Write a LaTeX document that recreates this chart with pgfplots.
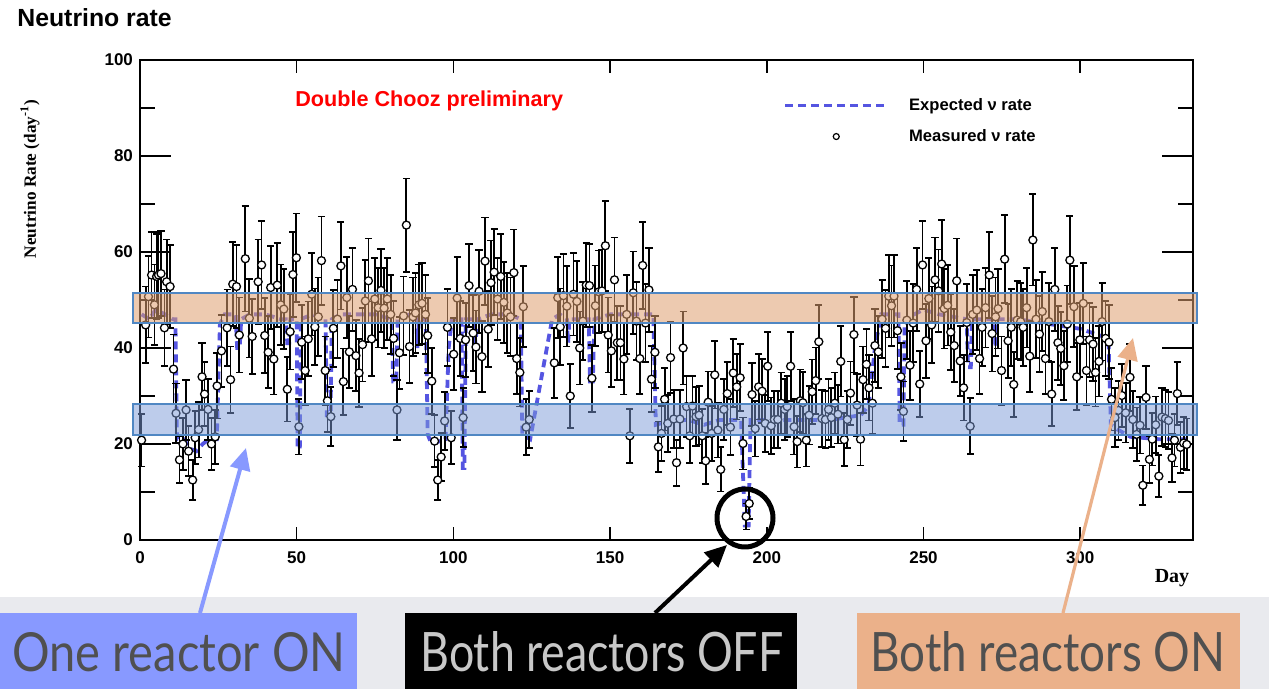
\documentclass[border=0pt]{standalone}
\usepackage{fontspec}
\setmainfont{Liberation Serif}
\setsansfont{Liberation Sans}
\newfontfamily\latofont{Lato}
\usepackage{pgfplots}
\pgfplotsset{compat=1.18}
\usepackage{pgfplotstable}
\usetikzlibrary{arrows.meta}

\definecolor{expblue}{RGB}{85,85,225}
\definecolor{bandor}{RGB}{224,160,112}
\definecolor{bandbl}{RGB}{125,155,216}
\definecolor{bandedge}{RGB}{80,135,195}
\definecolor{boxblue}{RGB}{136,153,255}
\definecolor{boxorange}{RGB}{235,177,138}
\definecolor{greybg}{RGB}{233,234,238}
\definecolor{txtgrey}{RGB}{80,80,80}
\definecolor{txtlight}{RGB}{200,200,200}

\pgfplotsset{
  explegend/.style={legend image code/.code={\draw[##1] (0pt,0pt) -- (51pt,0pt);}},
  measlegend/.style={legend image code/.code={\path[draw=none, fill=none] (0pt,0pt) -- (51pt,0pt);\draw[black, fill=white, line width=0.6pt] (25.5pt,0pt) circle (1.5pt);}},
  framebox/.style={at={(0pt,0pt)}, anchor=south west,
    scale only axis, width=526.5pt, height=240pt,
    xmin=0, xmax=336, ymin=0, ymax=100,
    axis line style={line width=1pt},
    tick align=inside,
    tick style={line width=0.8pt, black},
    ticklabel style={font=\sffamily\bfseries\fontsize{8.5}{10}\selectfont},
    /pgf/number format/assume math mode=true},
}

\pgfplotstableread{
x y e
0.5 20.8 5.5
1.8 44.8 8.0
2.7 50.7 8.5
3.7 55.2 8.9
4.6 49.0 8.4
5.3 54.9 8.9
5.9 55.2 8.9
6.7 55.5 8.9
7.8 44.2 8.0
8.5 53.8 8.8
9.6 52.8 8.7
10.7 35.6 7.2
11.5 26.4 6.2
12.6 16.7 4.9
13.7 20.0 5.4
14.7 27.1 6.2
15.5 18.5 5.2
16.8 12.5 4.2
17.6 21.3 5.5
18.7 23.0 5.8
19.8 34.0 7.0
20.6 30.4 6.6
21.7 27.2 6.3
22.8 20.0 5.4
24.0 21.5 5.6
24.6 32.1 6.8
26.0 39.4 7.5
27.8 44.2 8.0
28.9 33.4 6.9
29.6 53.3 8.8
30.8 52.8 8.7
31.7 42.7 7.8
33.6 58.6 11.0
34.9 46.2 8.2
35.8 42.4 7.8
37.7 53.8 8.8
38.8 57.3 9.1
39.8 42.6 7.8
40.9 39.1 7.5
41.7 52.6 8.7
42.7 37.7 7.4
43.8 53.1 8.7
44.9 49.0 8.4
45.9 48.1 8.3
47.0 31.4 6.7
47.9 43.4 7.9
48.8 55.3 8.9
49.9 58.8 9.2
50.7 23.6 5.8
51.6 41.2 7.7
52.7 35.3 7.1
53.7 41.9 7.8
54.8 51.2 8.6
55.8 44.4 8.0
56.9 46.5 8.2
57.9 58.2 9.2
59.1 35.3 7.1
59.8 29.0 6.5
60.9 25.7 6.1
61.7 44.1 8.0
63.0 46.0 8.1
64.1 57.1 9.1
64.9 33.0 6.9
66.0 50.5 8.5
66.8 39.2 7.5
67.8 52.2 8.7
68.9 38.4 7.4
69.9 34.8 7.1
71.0 40.7 7.7
71.9 49.8 8.5
72.9 54.0 8.8
73.9 41.9 7.8
74.9 50.2 8.5
76.0 48.4 8.3
76.9 52.0 8.7
77.9 48.3 8.3
78.9 50.2 8.5
80.0 47.0 8.2
80.9 42.0 7.8
82.0 27.1 6.2
82.8 39.0 7.5
84.1 46.7 8.2
85.0 65.6 9.7
86.0 40.3 7.6
87.1 46.5 8.2
87.9 47.3 8.3
89.0 49.0 8.4
90.0 49.3 8.4
91.1 47.0 8.2
91.8 42.6 7.8
93.1 33.1 6.9
94.0 20.6 5.4
95.0 12.5 4.2
96.1 17.3 5.0
97.2 24.8 6.0
98.1 44.3 8.0
99.3 21.3 5.5
100.1 38.7 7.5
101.2 50.4 8.5
102.2 42.0 7.8
103.1 25.5 6.1
103.9 41.7 7.7
105.0 53.0 8.7
106.3 43.1 7.9
107.2 40.2 7.6
108.2 51.8 8.6
109.1 38.2 7.4
110.1 58.1 9.1
111.1 43.9 7.9
112.0 53.6 8.8
113.0 55.8 9.0
114.1 50.2 8.5
115.1 54.9 8.9
116.1 49.5 8.4
117.2 47.3 8.3
118.2 46.5 8.2
119.3 55.7 9.0
120.2 37.8 7.4
121.2 34.9 7.1
122.3 48.6 8.4
123.2 23.5 5.8
124.2 25.1 6.0
132.2 36.9 7.3
133.3 50.5 8.5
134.1 44.4 8.0
135.1 50.9 8.6
136.2 48.7 8.4
137.3 30.0 6.6
138.3 51.2 8.6
139.4 49.7 8.5
140.3 40.0 7.6
141.3 45.6 8.1
142.4 53.1 8.7
143.4 53.0 8.7
144.2 33.7 7.0
145.3 48.8 8.4
146.4 51.7 8.6
147.4 51.9 8.6
148.5 61.3 9.4
149.4 42.7 7.8
150.4 39.4 7.5
151.4 54.2 8.8
152.3 41.1 7.7
153.3 41.1 7.7
154.4 37.7 7.4
155.3 47.0 8.2
156.3 21.7 5.6
157.4 51.5 8.6
158.4 45.6 8.1
159.5 37.8 7.4
160.4 57.2 9.1
161.3 45.2 8.1
162.4 52.1 8.7
163.2 33.5 6.9
164.3 39.1 7.5
165.4 19.4 5.3
166.4 22.2 5.7
167.4 29.3 6.5
168.4 24.3 5.9
169.3 38.0 7.4
170.3 25.2 6.0
171.2 16.1 4.8
172.3 25.2 6.0
173.3 40.0 7.6
174.4 27.8 6.3
175.4 21.7 5.6
176.3 27.9 6.3
177.4 25.7 6.1
178.4 26.0 6.1
179.4 21.7 5.6
180.5 16.5 4.9
181.3 28.7 6.4
182.4 22.2 5.7
183.4 34.4 7.0
184.4 22.9 5.7
185.3 14.7 4.6
186.3 27.2 6.3
187.4 30.5 6.6
188.4 23.5 5.8
189.3 34.8 7.1
190.4 31.9 6.8
191.5 33.8 7.0
192.4 20.1 5.4
193.4 4.9 2.7
194.4 7.6 3.3
195.3 30.3 6.6
196.3 23.2 5.8
197.4 31.9 6.8
198.5 31.0 6.7
199.5 24.3 5.9
200.3 36.2 7.2
201.4 23.8 5.9
202.4 25.1 6.0
203.5 25.1 6.0
204.6 28.5 6.4
205.7 27.2 6.3
206.5 27.8 6.3
207.6 36.2 7.2
208.7 23.6 5.8
209.7 20.5 5.4
210.7 29.0 6.5
211.5 28.6 6.4
212.6 20.8 5.5
213.5 26.0 6.1
214.5 30.9 6.7
215.6 33.2 6.9
216.6 41.3 7.7
217.6 25.3 6.0
218.7 25.1 6.0
219.7 27.2 6.3
220.6 25.5 6.1
221.7 28.5 6.4
222.7 26.2 6.1
223.6 37.2 7.3
224.7 20.9 5.5
225.7 25.1 6.0
226.7 30.6 6.6
227.8 42.8 7.9
228.8 28.1 6.4
229.9 21.0 5.5
230.7 33.4 6.9
231.8 36.6 7.3
232.6 31.7 6.8
233.7 28.5 6.4
234.5 40.5 7.6
235.6 39.2 7.5
236.8 46.0 8.1
237.9 44.1 8.0
238.9 50.8 8.6
239.8 48.8 8.4
240.6 50.8 8.6
241.7 43.6 7.9
242.8 34.0 7.0
243.6 26.8 6.2
244.7 45.8 8.1
245.7 36.4 7.2
246.7 45.2 8.1
247.8 52.2 8.7
248.8 32.5 6.8
249.7 57.3 9.1
250.8 41.5 7.7
251.7 50.3 8.5
252.6 44.8 8.0
253.7 54.2 8.8
254.8 51.9 8.6
255.8 57.5 9.1
256.6 48.2 8.3
257.7 48.9 8.4
258.7 43.3 7.9
259.8 40.5 7.6
260.6 54.0 8.8
261.7 37.3 7.3
262.8 31.7 6.8
263.8 45.3 8.1
264.9 23.7 5.8
265.7 47.0 8.2
267.0 47.9 8.3
267.9 37.8 7.4
268.7 44.3 8.0
269.8 48.4 8.3
271.0 55.2 8.9
271.9 43.0 7.9
273.0 46.5 8.2
273.8 48.2 8.3
274.9 35.3 7.1
275.9 58.5 9.2
277.0 41.5 7.7
278.0 44.3 8.0
278.8 32.4 6.8
279.9 45.8 8.1
281.0 45.5 8.1
281.8 44.3 8.0
282.9 48.4 8.3
283.9 38.3 7.4
284.9 62.5 9.5
285.9 46.0 8.1
287.0 42.9 7.9
287.9 47.6 8.3
288.9 37.8 7.4
290.0 45.5 8.1
290.9 30.4 6.6
291.9 52.2 8.7
292.9 41.1 7.7
293.8 39.9 7.6
294.8 36.3 7.2
295.9 45.0 8.0
296.7 58.3 9.2
298.0 48.6 8.4
298.9 34.0 7.0
299.9 41.7 7.7
301.0 49.3 8.4
302.0 35.3 7.1
303.0 41.7 7.7
304.1 40.8 7.7
304.9 34.9 7.1
306.0 37.2 7.3
307.0 45.5 8.1
308.1 42.0 7.8
309.2 41.2 7.7
310.0 29.3 6.5
311.1 25.5 6.1
312.2 27.0 6.2
313.3 30.1 6.6
314.5 26.5 6.2
315.9 33.9 7.0
316.8 25.1 6.0
318.0 22.0 5.6
319.1 23.9 5.9
320.0 11.4 4.1
321.0 29.7 6.5
322.1 16.8 4.9
323.0 21.0 5.5
324.1 24.0 5.9
325.1 13.3 4.4
326.1 25.6 6.1
327.2 25.3 6.0
328.2 24.9 6.0
329.3 17.1 5.0
330.1 20.8 5.5
331.0 30.5 6.6
332.0 19.3 5.3
333.0 20.2 5.4
334.0 19.9 5.4
}\measured

\pgfplotstableread{
x y
0.5 47
3 46
5 48
8 47
10.5 46
11.3 46
11.8 21
14 21
16 19
18 18.5
20 20
22 21
24.5 21
25.5 45
27 47
30.5 47
31 40
31.8 40
32.3 46
35 47
40 47
45 46
46.5 46
47 41
47.6 41
48 46
50 46
50.3 19
51 19
51.3 46
55 47
59.2 46
59.6 26
60.8 26
61.2 46
64 47
70 47
75 47
80.3 46
80.8 33
81.8 33
82.2 46
86 47
88.2 46
88.5 40
89 46
91.2 46
91.8 22
93 20
97.5 21
98.5 40
99.5 46
102.6 46
103 15
103.5 15
104 46
106.5 46
107 41
107.8 46
112 47
118 47
121.5 46
122 22
124.5 21
131.5 46
134 47
136.2 46
136.6 41
137 46
143.2 46
143.6 33
144.5 33
145 46
150 47
155 47
160 47
163.8 47
164.6 24
170 25
175 25
180 24
185 25
191.8 25
192.5 12
193 3
194.2 3
194.8 25
200 25
210 25
220 25
230 26
232.5 28
234.5 40
236.5 47
242 47
242.4 24
243.6 24
244 46
250 48
255 47
263.8 46
264.2 36
265.1 36
265.5 46
272.6 46
273 40
273.5 46
280 46
290 45
300 44
309 42
309.8 24
312 23
316 21.5
325 21
334 21
}\expected

\begin{document}
\begin{tikzpicture}
\tikzset{pix/.style={x=0.5pt,y=-0.5pt,shift={(-70pt,270pt)}}}
\begin{scope}[pix]
\fill[white] (0,0) rectangle (1269,689);
\fill[greybg] (0,597) rectangle (1269,689);
\end{scope}

% x ticks (short)
\begin{axis}[framebox,
  ytick=\empty,
  xtick={0,50,...,300},
  major tick length=6.5pt,
  xtick pos=both, xticklabel pos=lower,
  xticklabel style={yshift=-2.5pt},
]
\end{axis}

% main axis with y ticks (long) and the data
\begin{axis}[framebox,
  xtick=\empty,
  ytick={0,20,...,100}, minor y tick num=1,
  major tick length=15.5pt, minor tick length=7.5pt,
  ytick pos=both, yticklabel pos=left,
  legend style={at={(rel axis cs:0.6106,0.93)}, anchor=north west, draw=none, fill=none,
    font=\sffamily\bfseries\fontsize{8.3}{10}\selectfont, row sep=4pt, column sep=8pt, inner sep=0pt},
  legend cell align=left,
  clip=false,
]
\addplot[color=expblue, line width=1.9pt, dash pattern=on 4pt off 2.5pt, explegend]
  table[x=x,y=y] {\expected};
\addlegendentry{Expected ν rate}
\addplot[only marks, mark=*, mark size=2pt, mark options={fill=white, draw=black, line width=0.65pt},
  measlegend,
  error bars/.cd, y dir=both, y explicit,
  error bar style={line width=0.9pt, black},
  error mark options={rotate=90, line width=0.9pt, mark size=1.8pt, black}]
  table[x=x,y=y,y error=e] {\measured};
\addlegendentry{Measured ν rate}
\end{axis}

\begin{scope}[pix]
% bands
\draw[bandedge, line width=1pt, fill=bandor, fill opacity=0.55] (133,293) rectangle (1197,323);
\draw[bandedge, line width=1pt, fill=bandbl, fill opacity=0.5] (133,404) rectangle (1197,435);
% texts
\node[anchor=base west, inner sep=0pt, font=\sffamily\bfseries\fontsize{12.4}{14}\selectfont] at (17,26.7) {Neutrino rate};
\node[rotate=90, inner sep=0pt, font=\rmfamily\bfseries\fontsize{8.6}{10}\selectfont] at (30,179) {Neutrino Rate (day\textsuperscript{-1})};
\node[inner sep=0pt, font=\rmfamily\bfseries\fontsize{10}{12}\selectfont] at (1172,578) {Day};
\node[anchor=base west, inner sep=0pt, text=red, font=\sffamily\bfseries\fontsize{10.8}{12}\selectfont] at (295,107) {Double Chooz preliminary};
% boxes
\fill[boxblue] (0,613) rectangle (357,689);
\fill[black] (405,613) rectangle (797,689);
\fill[boxorange] (857,613) rectangle (1240,689);
\node[anchor=base west, inner sep=0pt, text=txtgrey] at (12,672) {\resizebox{166.5pt}{19.5pt}{\latofont One reactor ON}};
\node[anchor=base west, inner sep=0pt, text=txtlight] at (420,672) {\resizebox{181.5pt}{20pt}{\latofont Both reactors OFF}};
\node[anchor=base west, inner sep=0pt, text=txtgrey] at (870,672) {\resizebox{177.5pt}{20pt}{\latofont Both reactors ON}};
% arrows
\draw[boxblue, line width=2pt, -{Triangle[length=11pt,width=10pt]}] (200,613) -- (246,448);
\draw[black, line width=2pt, -{Triangle[length=11pt,width=10pt]}] (655,613) -- (727,545);
\draw[boxorange, line width=1.6pt, -{Triangle[length=11pt,width=10pt]}] (1063,613) -- (1133,338);
\draw[black, line width=2.5pt] (745,518) ellipse [x radius=28, y radius=29];
\end{scope}

\pgfresetboundingbox
\begin{scope}[pix]\path (0,0) rectangle (1269,689);\end{scope}
\end{tikzpicture}
\end{document}
